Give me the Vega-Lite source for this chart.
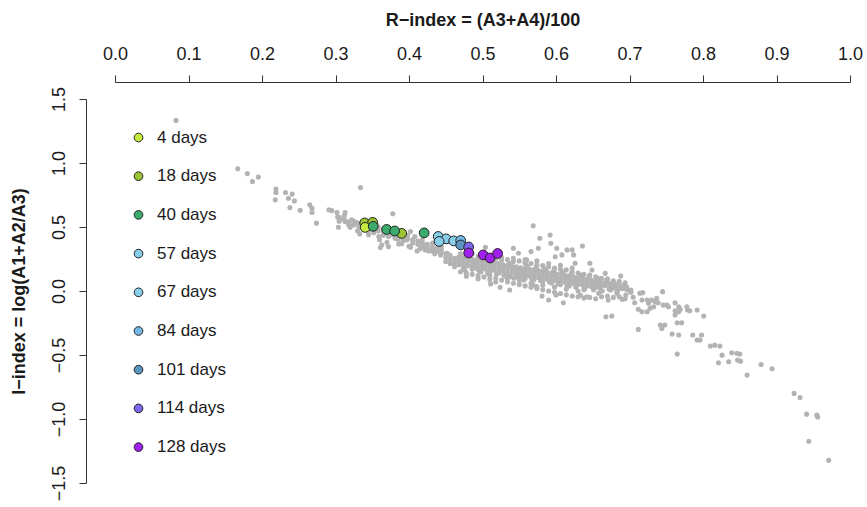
{
  "$schema": "https://vega.github.io/schema/vega-lite/v6.json",
  "autosize": "none",
  "width": 735,
  "height": 384,
  "padding": {"left": 115, "top": 99, "right": 17, "bottom": 24},
  "background": "white",
  "config": {
    "view": {"stroke": null},
    "font": "Liberation Sans",
    "axis": {"grid": false, "domainColor": "#333333", "tickColor": "#333333", "labelColor": "#1a1a1a", "titleColor": "#1a1a1a", "labelFont": "Liberation Sans", "titleFont": "Liberation Sans", "labelFontSize": 18, "titleFontSize": 18, "titleFontWeight": "bold", "tickSize": 7, "domainWidth": 1, "tickWidth": 1, "labelFlush": false, "labelOverlap": false, "labelBound": false}
  },
  "datasets": {
    "bg": [
      {"r":0.083,"i":1.333},{"r":0.167,"i":0.955},{"r":0.180,"i":0.917},{"r":0.195,"i":0.890},{"r":0.187,"i":0.855},
      {"r":0.219,"i":0.796},{"r":0.219,"i":0.769},{"r":0.232,"i":0.769},{"r":0.241,"i":0.757},{"r":0.218,"i":0.712},
      {"r":0.236,"i":0.725},{"r":0.244,"i":0.704},{"r":0.238,"i":0.652},{"r":0.252,"i":0.630},{"r":0.265,"i":0.673},
      {"r":0.268,"i":0.647},{"r":0.268,"i":0.613},{"r":0.274,"i":0.530},{"r":0.291,"i":0.634},{"r":0.295,"i":0.628},
      {"r":0.302,"i":0.613},{"r":0.313,"i":0.613},{"r":0.303,"i":0.577},{"r":0.306,"i":0.561},{"r":0.313,"i":0.542},
      {"r":0.318,"i":0.530},{"r":0.322,"i":0.556},{"r":0.325,"i":0.516},{"r":0.320,"i":0.498},{"r":0.329,"i":0.534},
      {"r":0.334,"i":0.808},{"r":0.304,"i":0.498},{"r":0.333,"i":0.446},{"r":0.356,"i":0.516},{"r":0.359,"i":0.425},
      {"r":0.365,"i":0.483},{"r":0.363,"i":0.360},{"r":0.361,"i":0.339},{"r":0.372,"i":0.347},{"r":0.378,"i":0.603},
      {"r":0.381,"i":0.412},{"r":0.386,"i":0.368},{"r":0.393,"i":0.464},{"r":0.397,"i":0.399},{"r":0.402,"i":0.464},
      {"r":0.402,"i":0.342},{"r":0.408,"i":0.425},{"r":0.411,"i":0.313},{"r":0.418,"i":0.378},{"r":0.420,"i":0.347},
      {"r":0.424,"i":0.334},{"r":0.427,"i":0.313},{"r":0.422,"i":0.321},{"r":0.433,"i":0.308},{"r":0.443,"i":0.282},
      {"r":0.452,"i":0.295},{"r":0.461,"i":0.217},{"r":0.463,"i":0.248},{"r":0.476,"i":0.164},{"r":0.479,"i":0.203},
      {"r":0.488,"i":0.229},{"r":0.492,"i":0.178},{"r":0.504,"i":0.342},{"r":0.506,"i":0.217},{"r":0.513,"i":0.268},
      {"r":0.511,"i":0.055},{"r":0.514,"i":0.170},{"r":0.524,"i":0.029},{"r":0.526,"i":0.164},{"r":0.529,"i":0.125},
      {"r":0.537,"i":0.008},{"r":0.535,"i":0.190},{"r":0.538,"i":0.112},{"r":0.542,"i":0.334},{"r":0.547,"i":0.151},
      {"r":0.551,"i":0.112},{"r":0.549,"i":0.295},{"r":0.556,"i":0.086},{"r":0.560,"i":0.243},{"r":0.558,"i":0.217},
      {"r":0.569,"i":0.509},{"r":0.566,"i":0.308},{"r":0.569,"i":0.047},{"r":0.574,"i":0.034},{"r":0.578,"i":0.412},
      {"r":0.576,"i":0.334},{"r":0.581,"i":0.112},{"r":0.581,"i":-0.039},{"r":0.590,"i":-0.070},{"r":0.592,"i":0.438},
      {"r":0.593,"i":0.373},{"r":0.601,"i":0.334},{"r":0.599,"i":0.268},{"r":0.600,"i":-0.031},{"r":0.608,"i":0.282},
      {"r":0.610,"i":-0.092},{"r":0.615,"i":0.321},{"r":0.622,"i":0.321},{"r":0.624,"i":0.282},{"r":0.626,"i":0.217},
      {"r":0.636,"i":0.352},{"r":0.633,"i":-0.031},{"r":0.642,"i":-0.045},{"r":0.646,"i":0.217},{"r":0.649,"i":0.164},
      {"r":0.651,"i":0.047},{"r":0.658,"i":-0.018},{"r":0.667,"i":0.138},{"r":0.668,"i":-0.201},{"r":0.676,"i":-0.196},
      {"r":0.677,"i":0.021},{"r":0.683,"i":-0.005},{"r":0.669,"i":0.086},{"r":0.665,"i":0.047},{"r":0.674,"i":0.008},
      {"r":0.680,"i":0.055},{"r":0.688,"i":0.117},{"r":0.683,"i":-0.018},{"r":0.694,"i":0.034},{"r":0.695,"i":-0.031},
      {"r":0.701,"i":-0.005},{"r":0.671,"i":-0.070},{"r":0.690,"i":-0.065},{"r":0.705,"i":-0.049},{"r":0.707,"i":-0.092},
      {"r":0.714,"i":-0.018},{"r":0.718,"i":-0.013},{"r":0.717,"i":-0.070},{"r":0.724,"i":-0.070},{"r":0.726,"i":-0.096},
      {"r":0.730,"i":-0.070},{"r":0.735,"i":-0.084},{"r":0.737,"i":-0.057},{"r":0.745,"i":-0.005},{"r":0.712,"i":-0.143},
      {"r":0.717,"i":-0.162},{"r":0.724,"i":-0.162},{"r":0.728,"i":-0.135},{"r":0.733,"i":-0.123},{"r":0.739,"i":-0.092},
      {"r":0.746,"i":-0.110},{"r":0.751,"i":-0.110},{"r":0.753,"i":-0.123},{"r":0.712,"i":-0.300},{"r":0.742,"i":-0.266},
      {"r":0.744,"i":-0.292},{"r":0.748,"i":-0.266},{"r":0.762,"i":-0.092},{"r":0.767,"i":-0.123},{"r":0.762,"i":-0.154},
      {"r":0.767,"i":-0.162},{"r":0.769,"i":-0.143},{"r":0.778,"i":-0.123},{"r":0.779,"i":-0.149},{"r":0.782,"i":-0.154},
      {"r":0.792,"i":-0.149},{"r":0.801,"i":-0.196},{"r":0.762,"i":-0.188},{"r":0.765,"i":-0.248},{"r":0.771,"i":-0.248},
      {"r":0.758,"i":-0.336},{"r":0.767,"i":-0.344},{"r":0.786,"i":-0.344},{"r":0.792,"i":-0.383},{"r":0.798,"i":-0.344},
      {"r":0.796,"i":-0.383},{"r":0.765,"i":-0.493},{"r":0.810,"i":-0.430},{"r":0.816,"i":-0.423},{"r":0.823,"i":-0.430},
      {"r":0.826,"i":-0.501},{"r":0.821,"i":-0.561},{"r":0.835,"i":-0.553},{"r":0.839,"i":-0.483},{"r":0.846,"i":-0.487},
      {"r":0.847,"i":-0.540},{"r":0.850,"i":-0.493},{"r":0.851,"i":-0.548},{"r":0.860,"i":-0.657},{"r":0.879,"i":-0.574},
      {"r":0.894,"i":-0.608},{"r":0.924,"i":-0.800},{"r":0.932,"i":-0.832},{"r":0.941,"i":-0.962},{"r":0.955,"i":-0.970},
      {"r":0.956,"i":-0.984},{"r":0.944,"i":-1.174},{"r":0.971,"i":-1.322},
      {"r":0.305,"i":0.575},{"r":0.305,"i":0.545},{"r":0.312,"i":0.560},{"r":0.312,"i":0.590},{"r":0.318,"i":0.540},
      {"r":0.318,"i":0.515},{"r":0.325,"i":0.545},{"r":0.325,"i":0.520},{"r":0.332,"i":0.525},{"r":0.332,"i":0.500},
      {"r":0.338,"i":0.505},{"r":0.338,"i":0.480},{"r":0.338,"i":0.530},{"r":0.345,"i":0.495},{"r":0.345,"i":0.470},
      {"r":0.352,"i":0.485},{"r":0.352,"i":0.455},{"r":0.358,"i":0.470},{"r":0.358,"i":0.500},{"r":0.365,"i":0.460},
      {"r":0.365,"i":0.435},{"r":0.372,"i":0.450},{"r":0.372,"i":0.425},{"r":0.378,"i":0.440},{"r":0.378,"i":0.465},
      {"r":0.385,"i":0.430},{"r":0.385,"i":0.405},{"r":0.392,"i":0.420},{"r":0.392,"i":0.395},{"r":0.398,"i":0.410},
      {"r":0.398,"i":0.435},{"r":0.405,"i":0.400},{"r":0.405,"i":0.375},{"r":0.412,"i":0.390},{"r":0.412,"i":0.365},
      {"r":0.418,"i":0.375},{"r":0.418,"i":0.350},{"r":0.418,"i":0.400},{"r":0.425,"i":0.365},{"r":0.425,"i":0.340},
      {"r":0.432,"i":0.350},{"r":0.432,"i":0.325},{"r":0.432,"i":0.375},{"r":0.438,"i":0.335},{"r":0.438,"i":0.310},
      {"r":0.444,"i":0.320},{"r":0.444,"i":0.295},{"r":0.444,"i":0.345},
      {"r":0.360,"i":0.400},{"r":0.370,"i":0.380},{"r":0.390,"i":0.370},{"r":0.400,"i":0.350},{"r":0.415,"i":0.330},
      {"r":0.435,"i":0.290},{"r":0.345,"i":0.440},{"r":0.330,"i":0.470},
      {"r":0.450,"i":0.262},{"r":0.450,"i":0.231},{"r":0.450,"i":0.292},{"r":0.456,"i":0.245},{"r":0.456,"i":0.278},
      {"r":0.456,"i":0.214},{"r":0.462,"i":0.255},{"r":0.462,"i":0.221},{"r":0.462,"i":0.190},{"r":0.468,"i":0.236},
      {"r":0.468,"i":0.268},{"r":0.468,"i":0.205},{"r":0.474,"i":0.240},{"r":0.474,"i":0.212},{"r":0.474,"i":0.262},
      {"r":0.474,"i":0.180},{"r":0.480,"i":0.226},{"r":0.480,"i":0.198},{"r":0.480,"i":0.255},{"r":0.486,"i":0.230},
      {"r":0.486,"i":0.195},{"r":0.486,"i":0.250},{"r":0.486,"i":0.170},{"r":0.492,"i":0.214},{"r":0.492,"i":0.240},
      {"r":0.492,"i":0.185},{"r":0.498,"i":0.210},{"r":0.498,"i":0.235},{"r":0.498,"i":0.180},{"r":0.498,"i":0.150},
      {"r":0.504,"i":0.200},{"r":0.504,"i":0.228},{"r":0.504,"i":0.172},{"r":0.510,"i":0.205},{"r":0.510,"i":0.175},
      {"r":0.510,"i":0.232},{"r":0.510,"i":0.150},{"r":0.516,"i":0.190},{"r":0.516,"i":0.220},{"r":0.516,"i":0.162},
      {"r":0.522,"i":0.192},{"r":0.522,"i":0.165},{"r":0.522,"i":0.215},{"r":0.522,"i":0.140},{"r":0.528,"i":0.180},
      {"r":0.528,"i":0.205},{"r":0.528,"i":0.152},{"r":0.534,"i":0.175},{"r":0.534,"i":0.200},{"r":0.534,"i":0.145},
      {"r":0.534,"i":0.122},{"r":0.540,"i":0.170},{"r":0.540,"i":0.195},{"r":0.540,"i":0.140},{"r":0.546,"i":0.168},
      {"r":0.546,"i":0.140},{"r":0.546,"i":0.190},{"r":0.546,"i":0.112},{"r":0.552,"i":0.155},{"r":0.552,"i":0.182},
      {"r":0.552,"i":0.128},{"r":0.558,"i":0.150},{"r":0.558,"i":0.176},{"r":0.558,"i":0.122},{"r":0.558,"i":0.098},
      {"r":0.564,"i":0.145},{"r":0.564,"i":0.170},{"r":0.564,"i":0.118},{"r":0.570,"i":0.140},{"r":0.570,"i":0.165},
      {"r":0.570,"i":0.112},{"r":0.570,"i":0.088},{"r":0.576,"i":0.132},{"r":0.576,"i":0.160},{"r":0.576,"i":0.105},
      {"r":0.582,"i":0.130},{"r":0.582,"i":0.155},{"r":0.582,"i":0.100},{"r":0.582,"i":0.075},{"r":0.588,"i":0.120},
      {"r":0.588,"i":0.148},{"r":0.588,"i":0.094},{"r":0.594,"i":0.115},{"r":0.594,"i":0.140},{"r":0.594,"i":0.088},
      {"r":0.594,"i":0.062},{"r":0.600,"i":0.110},{"r":0.600,"i":0.135},{"r":0.600,"i":0.082},{"r":0.606,"i":0.102},
      {"r":0.606,"i":0.130},{"r":0.606,"i":0.076},{"r":0.606,"i":0.050},{"r":0.612,"i":0.098},{"r":0.612,"i":0.122},
      {"r":0.612,"i":0.070},{"r":0.618,"i":0.090},{"r":0.618,"i":0.118},{"r":0.618,"i":0.062},{"r":0.618,"i":0.040},
      {"r":0.624,"i":0.085},{"r":0.624,"i":0.110},{"r":0.624,"i":0.058},{"r":0.630,"i":0.080},{"r":0.630,"i":0.105},
      {"r":0.630,"i":0.052},{"r":0.636,"i":0.072},{"r":0.636,"i":0.098},{"r":0.636,"i":0.046},{"r":0.642,"i":0.068},
      {"r":0.642,"i":0.092},{"r":0.642,"i":0.040},{"r":0.648,"i":0.060},{"r":0.648,"i":0.085},{"r":0.648,"i":0.035},
      {"r":0.654,"i":0.055},{"r":0.654,"i":0.078},{"r":0.654,"i":0.030},{"r":0.660,"i":0.050},{"r":0.660,"i":0.072},
      {"r":0.660,"i":0.022},{"r":0.666,"i":0.042},{"r":0.666,"i":0.065},{"r":0.672,"i":0.038},{"r":0.672,"i":0.060},
      {"r":0.672,"i":0.015},{"r":0.678,"i":0.030},{"r":0.678,"i":0.052},{"r":0.684,"i":0.025},{"r":0.684,"i":0.045},
      {"r":0.684,"i":0.005},{"r":0.690,"i":0.020},{"r":0.690,"i":0.040},{"r":0.696,"i":0.012},{"r":0.696,"i":0.032},
      {"r":0.702,"i":0.008},{"r":0.702,"i":-0.010},
      {"r":0.470,"i":0.290},{"r":0.470,"i":0.150},{"r":0.478,"i":0.275},{"r":0.478,"i":0.140},{"r":0.478,"i":0.115},
      {"r":0.486,"i":0.290},{"r":0.486,"i":0.130},{"r":0.494,"i":0.270},{"r":0.494,"i":0.120},{"r":0.494,"i":0.095},
      {"r":0.502,"i":0.265},{"r":0.502,"i":0.255},{"r":0.502,"i":0.110},{"r":0.510,"i":0.275},{"r":0.510,"i":0.090},
      {"r":0.510,"i":0.120},{"r":0.518,"i":0.250},{"r":0.518,"i":0.100},{"r":0.518,"i":0.070},{"r":0.526,"i":0.262},
      {"r":0.526,"i":0.085},{"r":0.526,"i":0.240},{"r":0.534,"i":0.245},{"r":0.534,"i":0.070},{"r":0.534,"i":0.095},
      {"r":0.542,"i":0.230},{"r":0.542,"i":0.060},{"r":0.542,"i":0.255},{"r":0.550,"i":0.235},{"r":0.550,"i":0.050},
      {"r":0.550,"i":0.080},{"r":0.558,"i":0.220},{"r":0.558,"i":0.040},{"r":0.558,"i":0.245},{"r":0.566,"i":0.215},
      {"r":0.566,"i":0.030},{"r":0.566,"i":0.060},{"r":0.574,"i":0.205},{"r":0.574,"i":0.020},{"r":0.574,"i":0.235},
      {"r":0.582,"i":0.198},{"r":0.582,"i":0.010},{"r":0.582,"i":0.045},{"r":0.590,"i":0.190},{"r":0.590,"i":0.000},
      {"r":0.590,"i":0.215},{"r":0.598,"i":0.180},{"r":0.598,"i":-0.010},{"r":0.598,"i":0.030},{"r":0.606,"i":0.170},
      {"r":0.606,"i":-0.020},{"r":0.606,"i":0.200},{"r":0.614,"i":0.165},{"r":0.614,"i":-0.030},{"r":0.614,"i":0.015},
      {"r":0.622,"i":0.150},{"r":0.622,"i":-0.040},{"r":0.622,"i":0.180},{"r":0.630,"i":0.140},{"r":0.630,"i":-0.045},
      {"r":0.630,"i":0.000},{"r":0.638,"i":0.130},{"r":0.638,"i":-0.055},{"r":0.638,"i":0.010},{"r":0.646,"i":0.125},
      {"r":0.646,"i":-0.050},{"r":0.654,"i":0.110},{"r":0.654,"i":-0.060},{"r":0.662,"i":0.100},{"r":0.662,"i":-0.045},
      {"r":0.670,"i":0.095},{"r":0.670,"i":-0.040},{"r":0.678,"i":0.080},{"r":0.678,"i":-0.050},{"r":0.686,"i":0.075},
      {"r":0.686,"i":-0.045},{"r":0.694,"i":0.065},{"r":0.694,"i":-0.060},
      {"r":0.489,"i":0.205},{"r":0.495,"i":0.160},{"r":0.501,"i":0.190},{"r":0.507,"i":0.140},{"r":0.513,"i":0.210},
      {"r":0.519,"i":0.130},{"r":0.525,"i":0.170},{"r":0.531,"i":0.115},{"r":0.537,"i":0.215},{"r":0.543,"i":0.100},
      {"r":0.549,"i":0.175},{"r":0.555,"i":0.125},{"r":0.561,"i":0.195},{"r":0.567,"i":0.095},{"r":0.573,"i":0.185},
      {"r":0.579,"i":0.080},{"r":0.585,"i":0.170},{"r":0.591,"i":0.070},{"r":0.597,"i":0.160},{"r":0.603,"i":0.055},
      {"r":0.609,"i":0.150},{"r":0.615,"i":0.045},{"r":0.621,"i":0.135},{"r":0.627,"i":0.030},{"r":0.633,"i":0.125},
      {"r":0.639,"i":0.020},{"r":0.645,"i":0.110},{"r":0.651,"i":0.010},{"r":0.657,"i":0.100},{"r":0.663,"i":0.000}
    ],
    "sel": [
      {"r":0.3397,"i":0.532,"g":"18 days"},{"r":0.3506,"i":0.536,"g":"18 days"},{"r":0.3900,"i":0.450,"g":"18 days"},
      {"r":0.3404,"i":0.497,"g":"4 days"},
      {"r":0.3513,"i":0.505,"g":"40 days"},{"r":0.3696,"i":0.481,"g":"40 days"},{"r":0.3805,"i":0.469,"g":"40 days"},{"r":0.4206,"i":0.454,"g":"40 days"},
      {"r":0.4397,"i":0.426,"g":"57 days"},{"r":0.4506,"i":0.407,"g":"57 days"},
      {"r":0.4410,"i":0.387,"g":"67 days"},{"r":0.4608,"i":0.391,"g":"67 days"},
      {"r":0.4703,"i":0.395,"g":"84 days"},
      {"r":0.4703,"i":0.360,"g":"101 days"},
      {"r":0.4812,"i":0.344,"g":"114 days"},
      {"r":0.4812,"i":0.297,"g":"128 days"},{"r":0.5009,"i":0.282,"g":"128 days"},{"r":0.5104,"i":0.258,"g":"128 days"},{"r":0.5206,"i":0.293,"g":"128 days"}
    ]
  },
  "layer": [
    {
      "data": {"name": "bg"},
      "mark": {"type": "circle", "size": 26, "color": "#b3b3b3", "opacity": 1},
      "encoding": {
        "x": {"field": "r", "type": "quantitative", "scale": {"domain": [0, 1], "nice": false, "zero": false},
          "axis": {"orient": "top", "offset": 17, "values": [0, 0.1, 0.2, 0.3, 0.4, 0.5, 0.6, 0.7, 0.8, 0.9, 1.0], "format": ".1f", "labelPadding": 12, "title": "R−index = (A3+A4)/100", "titlePadding": 16}},
        "y": {"field": "i", "type": "quantitative", "scale": {"domain": [-1.5, 1.5], "nice": false, "zero": false},
          "axis": {"orient": "left", "offset": 29, "values": [-1.5, -1, -0.5, 0, 0.5, 1, 1.5], "format": ".1f", "labelAngle": -90, "labelAlign": "center", "labelBaseline": "bottom", "labelPadding": 11, "title": "I−index = log(A1+A2/A3)", "titlePadding": 22}}
      }
    },
    {
      "data": {"name": "sel"},
      "mark": {"type": "point", "filled": true, "size": 95, "stroke": "#222222", "strokeWidth": 1, "opacity": 1, "shape": "circle"},
      "encoding": {
        "x": {"field": "r", "type": "quantitative"},
        "y": {"field": "i", "type": "quantitative"},
        "color": {"field": "g", "type": "nominal",
          "scale": {"domain": ["4 days", "18 days", "40 days", "57 days", "67 days", "84 days", "101 days", "114 days", "128 days"],
                    "range": ["#c5ec3c", "#9ac434", "#3aab6c", "#87ceeb", "#87ceeb", "#74b9e6", "#5b96c0", "#7b68ee", "#a020f0"]},
          "legend": {"orient": "none", "legendX": 15, "legendY": 30, "title": null, "padding": 0, "symbolType": "circle", "symbolSize": 75, "symbolStrokeColor": "#222222", "symbolStrokeWidth": 1, "symbolOpacity": 1, "labelFont": "Liberation Sans", "labelFontSize": 17, "labelColor": "#1a1a1a", "labelOffset": 10, "rowPadding": 20.7, "labelLimit": 200}}
      }
    }
  ]
}
